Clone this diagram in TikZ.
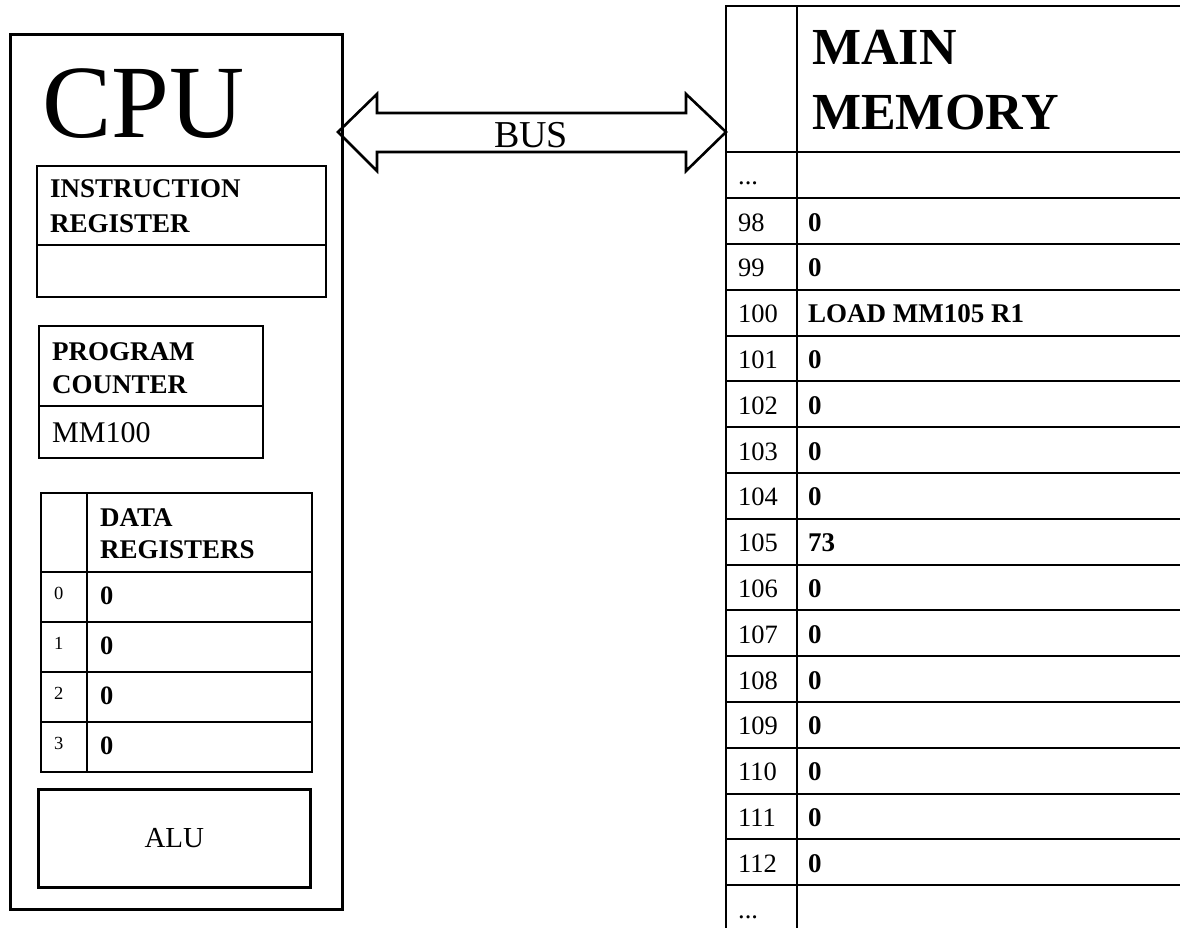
\documentclass[tikz,border=0pt]{standalone}
\usepackage{fontspec}
\setmainfont{Liberation Serif}
\usetikzlibrary{calc}
\begin{document}
\begin{tikzpicture}[x=1pt,y=-1pt,
  thickbox/.style={draw, line width=2.6pt, inner sep=0pt, anchor=north west},
  thinbox/.style={draw, line width=1.6pt},
  thinline/.style={line width=1.6pt},
  memline/.style={line width=2pt},
  hdr/.style={font=\fontsize{27}{32}\selectfont\bfseries, anchor=base west, inner sep=0pt},
  small/.style={font=\fontsize{18.5}{22}\selectfont, anchor=base west, inner sep=0pt},
  regval/.style={font=\fontsize{26.5}{32}\selectfont\bfseries, anchor=base west, inner sep=0pt},
  memtxt/.style={font=\fontsize{26.5}{32}\selectfont, anchor=base west, inner sep=0pt},
  memval/.style={font=\fontsize{27}{32}\selectfont\bfseries, anchor=base west, inner sep=0pt},
  memhdr/.style={font=\fontsize{52}{65}\selectfont\bfseries, anchor=base west, inner sep=0pt}]
\useasboundingbox (0,0) rectangle (1180,928);
\begin{scope}
\clip (0,0) rectangle (1180,928);

% ---------------- CPU ----------------
\node[thickbox, minimum width=332pt, minimum height=875pt] (cpu) at (9,33) {};
\node[font=\fontsize{104}{110}\selectfont, anchor=base west, inner sep=0pt] (cputxt) at (42,138) {CPU};

% instruction register
\draw[thinline] (37,166) rectangle (326,297);
\draw[thinline] (37,245) -- (326,245);
\node[hdr] (ir1) at (50,198) {INSTRUCTION};
\node[hdr] (ir2) at (50,232) {REGISTER};

% program counter
\draw[thinline] (39,326) rectangle (263,458);
\draw[thinline] (39,406) -- (263,406);
\node[hdr] (pc1) at (52,360) {PROGRAM};
\node[hdr] (pc2) at (52,393) {COUNTER};
\node[font=\fontsize{30}{36}\selectfont, anchor=base west, inner sep=0pt] (pcval) at (52,442) {MM100};

% data registers
\draw[thinline] (41,493) rectangle (312,772);
\draw[thinline] (87,493) -- (87,772);
\foreach \yy in {572,622,672,722} \draw[thinline] (41,\yy) -- (312,\yy);
\node[hdr] (dr1) at (100,526) {DATA};
\node[hdr] (dr2) at (100,558) {REGISTERS};
\foreach \r in {0,1,2,3} {
  \node[small] (rn\r) at (54,{599+50*\r}) {\r};
  \node[regval] (rv\r) at (100,{604+50*\r}) {0};
}

% ALU
\node[thickbox, minimum width=272pt, minimum height=98pt, font=\fontsize{29}{34}\selectfont] (alu) at (37,788) {ALU};

% ---------------- BUS ----------------
\coordinate (busL) at (338,132);
\coordinate (busR) at (726,132);
\draw[line width=2.6pt, line join=miter]
  (busL) -- ++(39,-38) -- ++(0,19) -- ($(busR)+(-40,-19)$) -- ++(0,-19)
  -- (busR) -- ++(-40,39) -- ++(0,-19) -- ($(busL)+(39,20)$) -- ++(0,19) -- cycle;
\node[font=\fontsize{38}{44}\selectfont, anchor=base, inner sep=0pt] (bus) at (531,148) {BUS};

% ---------------- MAIN MEMORY ----------------
\draw[memline] (726,6) -- (726,960);
\draw[memline] (797,6) -- (797,960);
\draw[memline] (725,6) -- (1200,6);
\foreach \k in {0,...,16} \draw[memline] (725,{152.3+45.8*\k}) -- (1200,{152.3+45.8*\k});
\node[memhdr] (mm1) at (812,65) {MAIN};
\node[memhdr] (mm2) at (812,130) {MEMORY};
\node[memtxt] (dotsTop) at (738,185) {...};
\foreach \lab/\val [count=\k] in {98/0,99/0,100/{LOAD MM105 R1},101/0,102/0,103/0,104/0,105/73,106/0,107/0,108/0,109/0,110/0,111/0,112/0} {
  \node[memtxt] (a\lab) at (738,{152.3+45.8*\k+33}) {\lab};
  \node[memval] (v\lab) at (808,{152.3+45.8*\k+33}) {\val};
}
\node[memtxt] (dotsBot) at (738,918) {...};
\end{scope}
\end{tikzpicture}
\end{document}
